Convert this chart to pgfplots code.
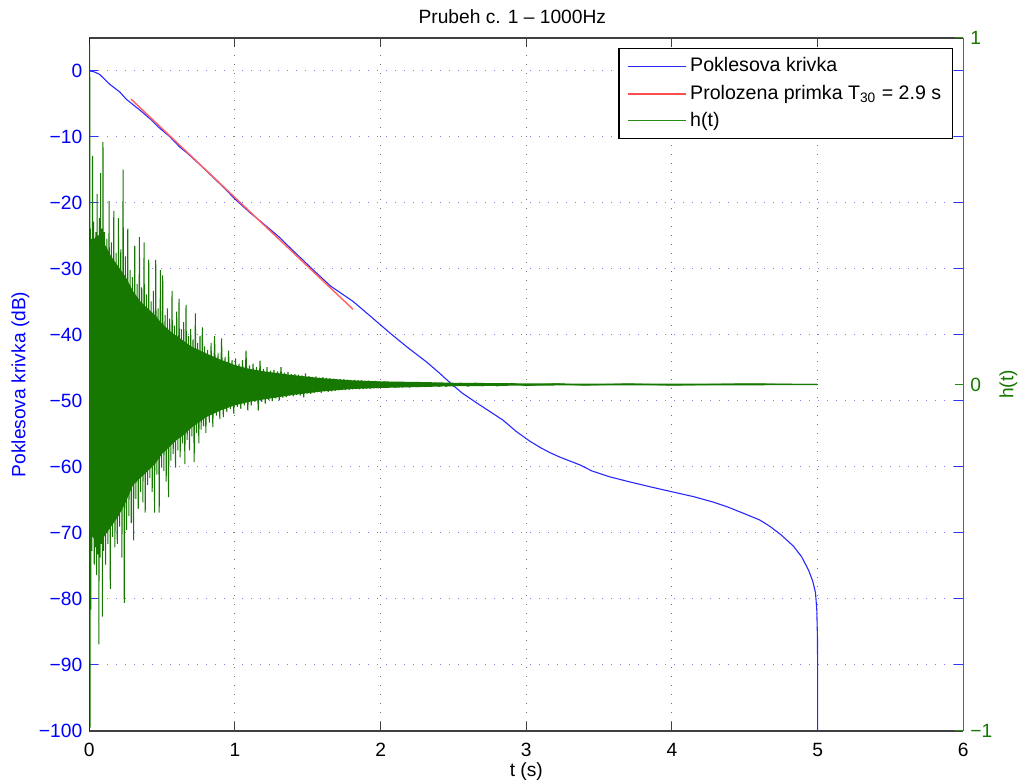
\documentclass[border=0pt]{standalone}
\usepackage{fontspec}
\setmainfont{Liberation Sans}
\usepackage{pgfplots}
\pgfplotsset{compat=1.18}
\definecolor{hgreen}{RGB}{22,120,0}
\definecolor{axgreen}{RGB}{40,140,20}
\definecolor{curveblue}{RGB}{40,40,255}
\definecolor{fitred}{RGB}{255,95,95}
\newcommand{\fs}{\fontsize{9.6}{11.5}\selectfont}
\begin{document}
\begin{tikzpicture}
\begin{axis}[
  width=437pt, height=346.5pt, scale only axis,
  xmin=0, xmax=6, ymin=-100, ymax=5,
  xtick={0,1,2,3,4,5,6}, xticklabels={0,1,2,3,4,5,6},
  ytick={-100,-90,-80,-70,-60,-50,-40,-30,-20,-10,0},
  yticklabels={−100,−90,−80,−70,−60,−50,−40,−30,−20,−10,0},
  tick align=inside, major tick length=4.5pt,
  separate axis lines,
  x axis line style={black!75, line width=0.6pt},
  y axis line style={blue, line width=0.6pt},
  x tick style={black!75, line width=0.5pt},
  y tick style={blue!80, line width=0.5pt},
  ticklabel style={font=\fs},
  yticklabel style={blue},
  xticklabel style={black, yshift=-2.5pt},
  xmajorgrids, ymajorgrids,
  x grid style={black!55, line width=0.5pt, dash pattern=on 0.5pt off 4pt},
  y grid style={blue!50, line width=0.5pt, dash pattern=on 0.5pt off 4pt},
  xlabel={t (s)},
  xlabel style={at={([yshift=-23pt]axis description cs:0.5,0)}, anchor=base, font=\fs},
  ylabel={Poklesova krivka (dB)},
  ylabel style={at={([xshift=-32pt]axis description cs:0,0.5)}, rotate=0, anchor=base, blue, font=\fs},
  title={Prubeh c. 1 – 1000Hz},
  every axis title/.style={at={([xshift=-7pt,yshift=7pt]axis description cs:0.5,1)}, anchor=base, font=\fs},
]
\addplot[curveblue, line width=0.55pt] coordinates {
(0,0) (0.03,-0.1) (0.07,-0.5) (0.14,-2.0) (0.21,-3.2) (0.255,-4.3) (0.30,-5.1)
(0.346,-5.9) (0.42,-7.3) (0.48,-8.6) (0.55,-9.9) (0.62,-11.5) (0.67,-12.4)
(0.75,-14.0) (0.85,-16.1) (0.92,-17.6) (1.0,-19.4) (1.1,-21.4) (1.22,-23.6)
(1.30,-25.1) (1.36,-26.4) (1.45,-28.3) (1.53,-30.0) (1.657,-32.6) (1.81,-34.9)
(1.927,-37.1) (2.064,-39.7) (2.18,-41.8) (2.316,-44.1) (2.40,-45.7) (2.475,-47.2)
(2.56,-48.8) (2.66,-50.3) (2.75,-51.6) (2.84,-52.9) (2.93,-54.6) (3.025,-56.1)
(3.10,-57.1) (3.16,-57.8) (3.23,-58.5) (3.37,-59.7) (3.45,-60.6) (3.574,-61.5)
(3.70,-62.2) (3.85,-63.0) (4.009,-63.8) (4.15,-64.5) (4.28,-65.3) (4.376,-66.0)
(4.50,-67.1) (4.60,-68.0) (4.673,-69.0) (4.75,-70.3) (4.834,-72.0) (4.89,-73.6)
(4.937,-75.6) (4.965,-77.2) (4.985,-79.0) (4.994,-81.5) (4.999,-86) (5.0,-92) (5.0,-100)
};
\addplot[fitred, line width=0.7pt] coordinates {(0.286,-4.25) (1.81,-36.1)};
\coordinate (bl) at (rel axis cs:0,0);
\coordinate (tr) at (rel axis cs:1,1);
\end{axis}
\begin{axis}[
  width=437pt, height=346.5pt, scale only axis,
  xmin=0, xmax=6, ymin=-1, ymax=1,
  axis x line=none, axis y line*=right,
  ytick={-1,0,1}, yticklabels={−1,0,1},
  tick align=inside, major tick length=4pt,
  y axis line style={axgreen, line width=0.6pt},
  y tick style={axgreen, line width=0.5pt},
  yticklabel style={hgreen, font=\fs},
  ylabel={h(t)},
  ylabel style={at={([xshift=25pt]axis description cs:1,0.5)}, rotate=0, anchor=base, hgreen, font=\fs},
  legend image code/.code={\draw[#1] (0pt,0pt) -- (29pt,0pt);},
  legend cell align=left,
  legend style={at={(1,1)}, anchor=north east, xshift=-5.15pt, yshift=-5pt,
    draw=black, line width=0.6pt, fill=white, font=\fontsize{9.8}{11.5}\selectfont,
    inner xsep=4pt, inner ysep=3pt, row sep=1.8pt,
    nodes={inner sep=1.6pt}},
]
\addlegendimage{color=curveblue, line width=0.55pt}
\addlegendentry{Poklesova krivka}
\addlegendimage{color=red!70, line width=1pt}
\addlegendentry{Prolozena primka T\textsubscript{30} = 2.9 s}
\addlegendimage{color=axgreen, line width=0.55pt}
\addlegendentry{h(t)}
% dense body of h(t)
\addplot[fill=hgreen, draw=none, forget plot] coordinates {
(0,0.40) (0.05,0.43) (0.1,0.41) (0.15,0.37) (0.2,0.34) (0.25,0.31) (0.3,0.27)
(0.35,0.24) (0.4,0.22) (0.45,0.20) (0.5,0.175) (0.55,0.155) (0.6,0.14) (0.65,0.125)
(0.7,0.11) (0.8,0.09) (0.9,0.072) (1.0,0.056) (1.1,0.045) (1.2,0.038) (1.4,0.027)
(1.6,0.018) (1.8,0.012) (2.0,0.009) (2.3,0.007) (2.5,0.005) (2.8,0.004) (3.0,0.003) (5.0,0.002)
(5.0,-0.002) (3.0,-0.003) (2.8,-0.004) (2.5,-0.005) (2.3,-0.007) (2.0,-0.01) (1.8,-0.013)
(1.6,-0.02) (1.4,-0.03) (1.2,-0.043) (1.1,-0.05) (1.0,-0.06) (0.9,-0.075) (0.8,-0.095)
(0.7,-0.125) (0.65,-0.145) (0.6,-0.16) (0.55,-0.18) (0.5,-0.20) (0.45,-0.23) (0.4,-0.25)
(0.35,-0.27) (0.3,-0.29) (0.25,-0.34) (0.2,-0.38) (0.15,-0.41) (0.1,-0.44) (0.05,-0.46) (0,-0.42)
};
\addplot[hgreen, line width=0.5pt, line join=bevel, forget plot] coordinates {
(0.000,0) (0.003,0.98) (0.005,-0.99) (0.008,0.45) (0.010,-0.65) (0.014,0.42) (0.018,-0.48)
(0.022,0.66) (0.026,-0.44) (0.030,0.47) (0.034,-0.52) (0.038,0.40) (0.042,-0.47)
(0.046,0.44) (0.050,-0.55) (0.054,0.55) (0.058,-0.49) (0.062,0.43) (0.066,-0.75)
(0.070,0.48) (0.074,-0.50) (0.078,0.61) (0.082,-0.46) (0.086,0.45) (0.090,-0.67)
(0.094,0.70) (0.098,-0.48)
(0.104,0.44) (0.112,-0.52) (0.120,0.42) (0.128,-0.46) (0.136,0.53) (0.144,-0.59)
(0.152,0.41) (0.160,-0.44) (0.168,0.50) (0.176,-0.47) (0.184,0.38) (0.192,-0.46)
(0.200,0.48) (0.208,-0.41) (0.216,0.39) (0.224,-0.50) (0.232,0.62) (0.240,-0.63)
(0.248,0.37) (0.256,-0.42) (0.264,0.45) (0.272,-0.38) (0.280,0.33) (0.288,-0.40)
(0.296,0.31) (0.304,-0.45) (0.312,0.40) (0.320,-0.33) (0.328,0.29) (0.336,-0.36)
(0.344,0.425) (0.352,-0.31) (0.360,0.28) (0.368,-0.34) (0.376,0.41) (0.384,-0.37)
(0.392,0.26) (0.400,-0.29) (0.408,0.36) (0.416,-0.27) (0.424,0.24) (0.432,-0.31)
(0.440,0.27) (0.448,-0.37) (0.456,0.36) (0.464,-0.26) (0.472,0.22) (0.480,-0.37)
(0.488,0.33) (0.496,-0.24) (0.504,0.315) (0.512,-0.25) (0.520,0.20) (0.528,-0.28)
(0.536,0.22) (0.544,-0.325) (0.552,0.19) (0.560,-0.22) (0.568,0.27) (0.576,-0.20)
(0.584,0.17) (0.592,-0.24) (0.600,0.21) (0.608,-0.19) (0.616,0.248) (0.624,-0.21)
(0.632,0.16) (0.640,-0.17) (0.648,0.18) (0.656,-0.23) (0.664,0.23) (0.672,-0.16)
(0.680,0.14) (0.688,-0.19) (0.696,0.16) (0.704,-0.15) (0.712,0.13) (0.720,-0.224)
(0.728,0.205) (0.736,-0.14) (0.744,0.12) (0.752,-0.17) (0.760,0.14) (0.768,-0.13)
(0.776,0.165) (0.784,-0.12) (0.792,0.11) (0.800,-0.14)
(0.812,0.10) (0.824,-0.11) (0.836,0.12) (0.848,-0.123) (0.860,0.14) (0.872,-0.09)
(0.884,0.09) (0.896,-0.10) (0.908,0.133) (0.920,-0.094) (0.932,0.08) (0.944,-0.08)
(0.956,0.098) (0.968,-0.07) (0.980,0.07) (0.992,-0.085) (1.004,0.075) (1.016,-0.065)
(1.028,0.06) (1.040,-0.07) (1.052,0.07) (1.064,-0.06) (1.076,0.098) (1.088,-0.075)
(1.100,0.055) (1.112,-0.06) (1.124,0.06) (1.136,-0.05) (1.148,0.05) (1.160,-0.075)
(1.172,0.069) (1.184,-0.05) (1.196,0.045) (1.208,-0.055) (1.220,0.05) (1.232,-0.045)
(1.244,0.04) (1.256,-0.048) (1.268,0.042) (1.280,-0.04) (1.292,0.038) (1.304,-0.046)
(1.316,0.05) (1.328,-0.038) (1.340,0.034) (1.352,-0.036) (1.364,0.036) (1.376,-0.032)
(1.388,0.03) (1.400,-0.034) (1.412,0.03) (1.424,-0.03) (1.436,0.028) (1.448,-0.032)
(1.460,0.026) (1.472,-0.037) (1.484,0.032) (1.496,-0.026) (1.508,0.024) (1.520,-0.027)
(1.532,0.022) (1.544,-0.024) (1.556,0.023) (1.568,-0.022) (1.580,0.02) (1.592,-0.024)
(1.604,0.021) (1.616,-0.02) (1.628,0.019) (1.640,-0.022) (1.652,0.018) (1.664,-0.02)
(1.676,0.017) (1.688,-0.018) (1.700,0.016) (1.712,-0.017) (1.724,0.015) (1.736,-0.016)
(1.748,0.015) (1.760,-0.015) (1.772,0.014) (1.784,-0.015) (1.796,0.013) (1.808,-0.014)
(1.820,0.013) (1.832,-0.013) (1.844,0.012) (1.856,-0.014) (1.868,0.012) (1.880,-0.013)
(1.892,0.011) (1.904,-0.012) (1.916,0.011) (1.928,-0.012) (1.940,0.010) (1.952,-0.011)
(1.964,0.010) (1.976,-0.011) (1.988,0.009) (2.000,-0.010)
(2.025,0.008) (2.05,-0.009) (2.075,0.007) (2.1,-0.009) (2.125,0.007) (2.15,-0.008)
(2.175,0.006) (2.2,-0.008) (2.225,0.006) (2.25,-0.007) (2.275,0.006) (2.3,-0.007)
(2.325,0.005) (2.35,-0.006) (2.375,0.005) (2.4,-0.006) (2.425,0.004) (2.45,-0.006)
(2.475,0.004) (2.5,-0.005) (2.55,0.004) (2.6,-0.005) (2.65,0.004) (2.7,-0.004)
(2.75,0.003) (2.8,-0.004) (2.9,0.003) (3.0,-0.003) (3.2,0.002) (3.4,-0.002)
(3.7,0.002) (4.0,-0.002) (4.5,0.002) (5.0,0)
};
\end{axis}
\pgfresetboundingbox
\path[use as bounding box] ([shift={(-44.65pt,-25pt)}]bl) rectangle ([shift={(27.35pt,19pt)}]tr);
\end{tikzpicture}
\end{document}
